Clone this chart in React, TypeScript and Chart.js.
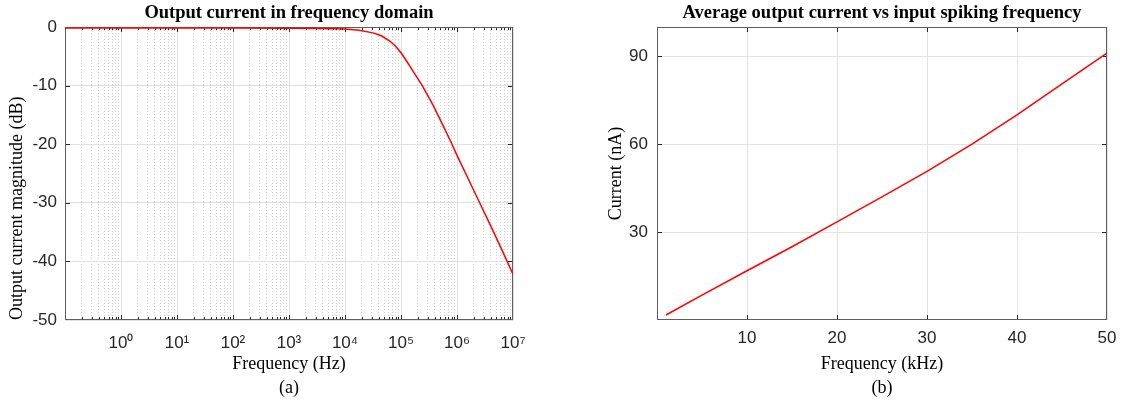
import React, { useEffect, useRef } from 'react';
import { Chart, registerables } from 'chart.js';

Chart.register(...registerables);

// ---------------- Data: left panel (frequency response) ----------------
const LEFT_FREQ_HZ = [
  0.1, 1, 10, 100, 1000, 3162, 10000, 17783, 31623, 44668, 63096, 79433,
  100000, 125893, 158489, 239883, 371535, 562341, 794328, 1000000, 1584893,
  2511886, 3981072, 6309573, 10000000,
];
const LEFT_MAG_DB = [
  -0.15, -0.15, -0.15, -0.15, -0.2, -0.25, -0.35, -0.55, -1.0, -1.5, -2.4, -3.25,
  -4.4, -5.8, -7.3, -10, -13.3, -16.8, -19.8, -21.9, -25.9,
  -29.9, -33.9, -38.0, -42.2,
];
const LEFT_X_DECADES = [0.1, 1, 10, 100, 1000, 10000, 100000, 1000000, 10000000];
const LEFT_X_LABELS = ['', '10⁰', '10¹', '10²', '10³', '10⁴', '10⁵', '10⁶', '10⁷'];
const LEFT_MINOR_MULTIPLIERS = [2, 3, 4, 5, 6, 7, 8, 9];
const LEFT_Y_TICKS = [0, -10, -20, -30, -40, -50];

// ---------------- Data: right panel (average current) ----------------
const RIGHT_FREQ_KHZ = [1, 5, 10, 15, 20, 25, 30, 35, 40, 45, 50];
const RIGHT_CURRENT_NA = [1.7, 8.5, 16.8, 25.0, 33.5, 42.0, 50.7, 60.0, 70.0, 80.6, 91.1];
const RIGHT_X_TICKS = [10, 20, 30, 40, 50];
const RIGHT_Y_TICKS = [30, 60, 90];

// ---------------- Texts ----------------
const LEFT_TITLE = 'Output current in frequency domain';
const LEFT_X_TITLE = 'Frequency (Hz)';
const LEFT_Y_TITLE = 'Output current magnitude (dB)';
const LEFT_CAPTION = '(a)';
const RIGHT_TITLE = 'Average output current vs input spiking frequency';
const RIGHT_X_TITLE = 'Frequency (kHz)';
const RIGHT_Y_TITLE = 'Current (nA)';
const RIGHT_CAPTION = '(b)';

const SERIF = "'Liberation Serif', 'Times New Roman', serif";
const SANS = "'Liberation Sans', Arial, Helvetica, sans-serif";
const TICK_COLOR = '#262626';
const BOX_COLOR = '#5e5e5e';
const LINE_RED = '#ff0000';

const boxPlugin = {
  id: 'matlabBox',
  beforeDatasetsDraw(chart: any) {
    const { ctx, chartArea } = chart;
    const { left, right, top, bottom } = chartArea;
    const xs = chart.scales.x;
    const ys = chart.scales.y;
    const L = Math.round(left) + 0.5;
    const R = Math.round(right) - 0.5;
    const T = Math.round(top) + 0.5;
    const B = Math.round(bottom) - 0.5;
    ctx.save();
    ctx.lineWidth = 1;
    ctx.strokeStyle = TICK_COLOR;
    ctx.beginPath();
    for (const t of xs.ticks) {
      const p = Math.round(xs.getPixelForValue(t.value)) + 0.5;
      if (p <= L + 1 || p >= R - 1) continue;
      const len = t.minorTick ? 2.5 : 4.5;
      ctx.moveTo(p, B);
      ctx.lineTo(p, B - len);
      ctx.moveTo(p, T);
      ctx.lineTo(p, T + len);
    }
    for (const t of ys.ticks) {
      const p = Math.round(ys.getPixelForValue(t.value)) + 0.5;
      if (p <= T + 1 || p >= B - 1) continue;
      const len = 4.5;
      ctx.moveTo(L, p);
      ctx.lineTo(L + len, p);
      ctx.moveTo(R, p);
      ctx.lineTo(R - len, p);
    }
    ctx.stroke();
    ctx.strokeStyle = BOX_COLOR;
    ctx.strokeRect(L, T, R - L, B - T);
    ctx.restore();
  },
};

function commonPlugins(title: string, caption: string) {
  return {
    legend: { display: false },
    tooltip: { enabled: false },
    title: {
      display: true,
      text: title,
      fullSize: false,
      color: '#000',
      font: { family: SERIF, size: 18.5, weight: 'bold' as const, lineHeight: 1.2 },
      padding: { top: 1.9, bottom: 2.9 },
    },
    subtitle: {
      display: true,
      text: caption,
      position: 'bottom' as const,
      fullSize: false,
      color: '#000',
      font: { family: SERIF, size: 18, weight: 'normal' as const, lineHeight: 1.2 },
      padding: { top: 0, bottom: 4.5 },
    },
  };
}

const X_AXIS_HEIGHT = 57.9;

function leftConfig(): any {
  const points = LEFT_FREQ_HZ.map((f, i) => ({ x: f, y: LEFT_MAG_DB[i] }));
  return {
    type: 'line',
    data: {
      datasets: [
        {
          data: points,
          borderColor: LINE_RED,
          borderWidth: 1.5,
          pointRadius: 0,
          tension: 0,
          fill: false,
        },
      ],
    },
    options: {
      responsive: false,
      maintainAspectRatio: false,
      animation: false,
      events: [],
      layout: { padding: { left: 0, right: 51, top: 0, bottom: 0 } },
      plugins: commonPlugins(LEFT_TITLE, LEFT_CAPTION),
      scales: {
        x: {
          type: 'logarithmic',
          min: 0.1,
          max: 10000000,
          afterBuildTicks: (scale: any) => {
            const ticks: any[] = [];
            LEFT_X_DECADES.forEach((d, i) => {
              ticks.push({ value: d, minorTick: false });
              if (i < LEFT_X_DECADES.length - 1) {
                LEFT_MINOR_MULTIPLIERS.forEach((m) => ticks.push({ value: d * m, minorTick: true }));
              }
            });
            ticks.sort((a, b) => a.value - b.value);
            scale.ticks = ticks;
          },
          afterFit: (scale: any) => {
            scale.height = X_AXIS_HEIGHT;
          },
          ticks: {
            autoSkip: false,
            maxRotation: 0,
            padding: 13.5,
            color: TICK_COLOR,
            font: { family: SANS, size: 17 },
            callback: (value: number) => {
              const i = LEFT_X_DECADES.findIndex((d) => Math.abs(d - value) / d < 1e-6);
              return i >= 0 ? LEFT_X_LABELS[i] : '';
            },
          },
          grid: {
            drawTicks: false,
            color: (ctx: any) => (ctx.tick && ctx.tick.minorTick ? '#cfcfcf' : '#e0e0e0'),
            lineWidth: 1,
          },
          border: {
            display: false,
            dash: (ctx: any) => (ctx.tick && ctx.tick.minorTick ? [1, 2] : []),
          },
          title: {
            display: true,
            text: LEFT_X_TITLE,
            color: '#000',
            font: { family: SERIF, size: 18, lineHeight: 1.2 },
            padding: { top: 0, bottom: 2.4 },
          },
        },
        y: {
          type: 'linear',
          min: -50,
          max: 0,
          afterBuildTicks: (scale: any) => {
            scale.ticks = LEFT_Y_TICKS.map((v) => ({ value: v }));
          },
          afterFit: (scale: any) => {
            scale.width = 65;
          },
          ticks: {
            padding: 8,
            color: TICK_COLOR,
            font: { family: SANS, size: 17 },
            callback: (value: number) => String(value),
          },
          grid: { drawTicks: false, color: '#e0e0e0', lineWidth: 1 },
          border: { display: false },
          title: {
            display: true,
            text: LEFT_Y_TITLE,
            align: 'start',
            color: '#000',
            font: { family: SERIF, size: 18, lineHeight: 1.2 },
            padding: { top: 6.2, bottom: 0 },
          },
        },
      },
    },
    plugins: [boxPlugin],
  };
}

function rightConfig(): any {
  const points = RIGHT_FREQ_KHZ.map((f, i) => ({ x: f, y: RIGHT_CURRENT_NA[i] }));
  return {
    type: 'line',
    data: {
      datasets: [
        {
          data: points,
          borderColor: LINE_RED,
          borderWidth: 1.5,
          pointRadius: 0,
          tension: 0,
          fill: false,
        },
      ],
    },
    options: {
      responsive: false,
      maintainAspectRatio: false,
      animation: false,
      events: [],
      layout: { padding: { left: 0, right: 21, top: 0, bottom: 0 } },
      plugins: commonPlugins(RIGHT_TITLE, RIGHT_CAPTION),
      scales: {
        x: {
          type: 'linear',
          min: 0,
          max: 50,
          afterBuildTicks: (scale: any) => {
            scale.ticks = RIGHT_X_TICKS.map((v) => ({ value: v }));
          },
          afterFit: (scale: any) => {
            scale.height = X_AXIS_HEIGHT;
          },
          ticks: {
            autoSkip: false,
            maxRotation: 0,
            padding: 8,
            color: TICK_COLOR,
            font: { family: SANS, size: 17 },
            callback: (value: number) => String(value),
          },
          grid: { drawTicks: false, color: '#e3e3e3', lineWidth: 1 },
          border: { display: false },
          title: {
            display: true,
            text: RIGHT_X_TITLE,
            color: '#000',
            font: { family: SERIF, size: 18, lineHeight: 1.2 },
            padding: { top: 0, bottom: 2.4 },
          },
        },
        y: {
          type: 'linear',
          min: 0,
          max: 100,
          afterBuildTicks: (scale: any) => {
            scale.ticks = RIGHT_Y_TICKS.map((v) => ({ value: v }));
          },
          afterFit: (scale: any) => {
            scale.width = 93;
          },
          ticks: {
            padding: 9,
            color: TICK_COLOR,
            font: { family: SANS, size: 17 },
            callback: (value: number) => String(value),
          },
          grid: { drawTicks: false, color: '#e3e3e3', lineWidth: 1 },
          border: { display: false },
          title: {
            display: true,
            text: RIGHT_Y_TITLE,
            color: '#000',
            font: { family: SERIF, size: 18, lineHeight: 1.2 },
            padding: { top: 41, bottom: 0 },
          },
        },
      },
    },
    plugins: [boxPlugin],
  };
}

export default function App() {
  const leftRef = useRef<HTMLCanvasElement>(null);
  const rightRef = useRef<HTMLCanvasElement>(null);

  useEffect(() => {
    const c1 = new Chart(leftRef.current as HTMLCanvasElement, leftConfig());
    const c2 = new Chart(rightRef.current as HTMLCanvasElement, rightConfig());
    return () => {
      c1.destroy();
      c2.destroy();
    };
  }, []);

  return (
    <div
      style={{
        position: 'absolute',
        left: 0,
        top: 0,
        width: 1128,
        height: 404,
        background: '#ffffff',
        overflow: 'hidden',
      }}
    >
      <canvas
        ref={leftRef}
        width={564}
        height={404}
        style={{ position: 'absolute', left: 0, top: 0, width: 564, height: 404, display: 'block' }}
      />
      <canvas
        ref={rightRef}
        width={564}
        height={404}
        style={{ position: 'absolute', left: 564, top: 0, width: 564, height: 404, display: 'block' }}
      />
    </div>
  );
}
